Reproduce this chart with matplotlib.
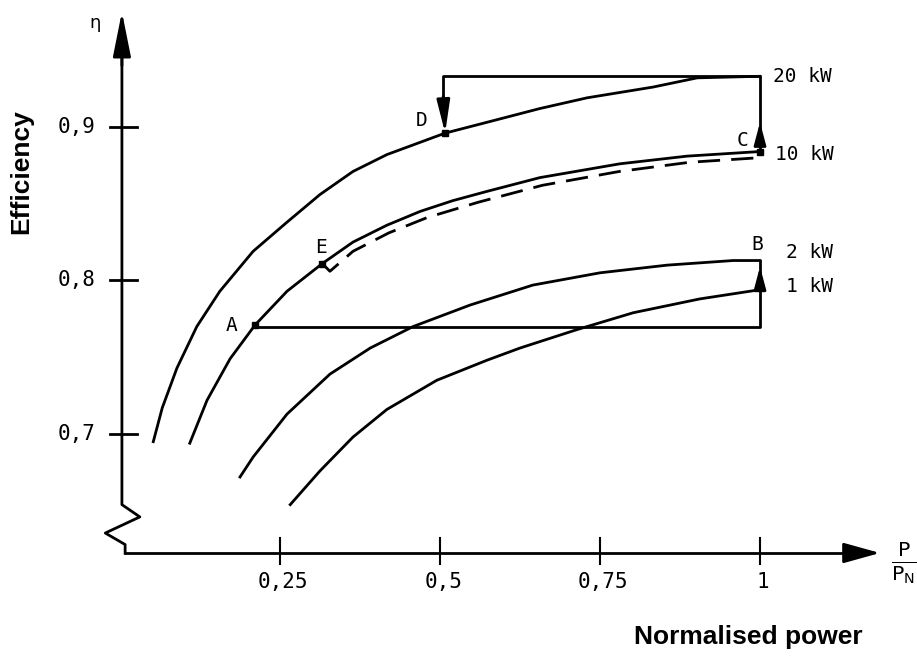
import matplotlib.pyplot as plt

# Kurven: Wirkungsgrad ueber normierter Leistung P/PN
p_20kw = [0.052, 0.066, 0.089, 0.120, 0.156, 0.208, 0.261, 0.3125, 0.364, 0.417, 0.508, 0.573, 0.656, 0.730, 0.833, 0.902, 1.0]
eta_20kw = [0.695, 0.717, 0.743, 0.770, 0.793, 0.819, 0.838, 0.856, 0.871, 0.882, 0.896, 0.903, 0.912, 0.919, 0.926, 0.932, 0.933]

p_10kw = [0.109, 0.136, 0.172, 0.211, 0.261, 0.316, 0.364, 0.417, 0.469, 0.520, 0.573, 0.656, 0.781, 0.886, 1.0]
eta_10kw = [0.694, 0.722, 0.749, 0.771, 0.793, 0.811, 0.825, 0.836, 0.845, 0.852, 0.858, 0.867, 0.876, 0.881, 0.884]

p_10kw_dash = [0.316, 0.328, 0.364, 0.42, 0.48, 0.56, 0.66, 0.78, 0.89, 1.0]
eta_10kw_dash = [0.811, 0.806, 0.819, 0.831, 0.841, 0.851, 0.862, 0.871, 0.877, 0.880]

p_2kw = [0.1875, 0.208, 0.261, 0.328, 0.391, 0.458, 0.547, 0.645, 0.75, 0.855, 0.958, 1.0]
eta_2kw = [0.672, 0.685, 0.713, 0.739, 0.756, 0.770, 0.784, 0.797, 0.805, 0.810, 0.813, 0.813]

p_1kw = [0.266, 0.3125, 0.364, 0.417, 0.495, 0.573, 0.625, 0.714, 0.802, 0.906, 1.0]
eta_1kw = [0.654, 0.676, 0.698, 0.716, 0.735, 0.748, 0.756, 0.768, 0.779, 0.788, 0.794]

curve_labels = ['20 kW', '10 kW', '2 kW', '1 kW']

# Betriebspunkte
point_names = ['A', 'B', 'C', 'D', 'E']
point_p = [0.211, 1.0, 1.0, 0.508, 0.316]
point_eta = [0.771, 0.813, 0.884, 0.896, 0.811]

x_ticks = [0.25, 0.5, 0.75, 1.0]
x_ticklabels = ['0,25', '0,5', '0,75', '1']
y_ticks = [0.9, 0.8, 0.7]
y_ticklabels = ['0,9', '0,8', '0,7']

fig = plt.figure(figsize=(9.17, 6.58), dpi=100)
ax = fig.add_axes([0, 0, 1, 1])
ax.set_xlim(-0.1875, 1.2453)
ax.set_ylim(0.5541, 0.9827)
ax.axis('off')

lw = 2.0
k = 'black'
mono = 'DejaVu Sans Mono'

# Achsen mit Bruch
x_axis_eta = 0.6225
ax.plot([0.003, 0.003, 0.031, -0.023, 0.008, 0.008], [0.960, 0.654, 0.646, 0.6355, 0.628, x_axis_eta], color=k, lw=lw)
ax.annotate('', xy=(0.003, 0.975), xytext=(0.003, 0.94),
            arrowprops=dict(arrowstyle='-|>,head_length=1.1,head_width=0.22', mutation_scale=25,
                            color=k, lw=lw, shrinkA=0, shrinkB=0))
ax.plot([0.008, 1.16], [x_axis_eta, x_axis_eta], color=k, lw=lw)
ax.annotate('', xy=(1.1875, x_axis_eta), xytext=(1.14, x_axis_eta),
            arrowprops=dict(arrowstyle='-|>,head_length=0.9,head_width=0.25', mutation_scale=25,
                            color=k, lw=lw, shrinkA=0, shrinkB=0))

for t, lab in zip(y_ticks, y_ticklabels):
    ax.plot([-0.016, 0.027], [t, t], color=k, lw=lw)
    ax.text(-0.039, t, lab, ha='right', va='center', fontsize=15, family=mono)
for t, lab in zip(x_ticks, x_ticklabels):
    ax.plot([t, t], [0.632, 0.6155], color=k, lw=1.5)
    ax.text(t + 0.005, 0.6036, lab, ha='center', va='center', fontsize=15, family=mono)

ax.text(-0.039, 0.968, 'η', ha='center', va='center', fontsize=13)
ax.text(1.205, 0.616, r'$\frac{\mathrm{P}}{\mathrm{P}_\mathrm{N}}$', ha='left', va='center', fontsize=21)

ax.text(-0.155, 0.871, 'Efficiency', rotation=90, ha='center', va='center',
        fontsize=19, fontweight='bold', family='Liberation Sans')
ax.text(0.981, 0.568, 'Normalised power', ha='center', va='center',
        fontsize=19, fontweight='bold', family='Liberation Sans')

# Kurven
ax.plot(p_20kw, eta_20kw, color=k, lw=lw)
ax.plot(p_10kw, eta_10kw, color=k, lw=lw)
ax.plot(p_10kw_dash, eta_10kw_dash, color=k, lw=lw, linestyle=(0, (8, 4)))
ax.plot(p_2kw, eta_2kw, color=k, lw=lw)
ax.plot(p_1kw, eta_1kw, color=k, lw=lw)

label_eta = [eta_20kw[-1], eta_10kw[-1] - 0.002, eta_2kw[-1] + 0.005, eta_1kw[-1] + 0.002]
label_dx = [0.02, 0.024, 0.04, 0.04]
for lab, e, dx in zip(curve_labels, label_eta, label_dx):
    ax.text(1.0 + dx, e, lab, ha='left', va='center', fontsize=14, family=mono)

# Wege zwischen Betriebspunkten
pa = dict(zip(point_names, zip(point_p, point_eta)))
ax.plot([pa['A'][0], 1.0, 1.0], [0.770, 0.770, pa['B'][1]], color=k, lw=lw)
ax.annotate('', xy=(1.0, 0.809), xytext=(1.0, eta_1kw[-1]),
            arrowprops=dict(arrowstyle='-|>,head_length=0.75,head_width=0.2', mutation_scale=18,
                            color=k, lw=lw, shrinkA=0, shrinkB=0))
ax.plot([1.0, 1.0, pa['D'][0] - 0.003, pa['D'][0] - 0.003],
        [pa['C'][1], eta_20kw[-1], eta_20kw[-1], 0.915], color=k, lw=lw)
ax.annotate('', xy=(1.0, 0.903), xytext=(1.0, 0.89),
            arrowprops=dict(arrowstyle='-|>,head_length=0.75,head_width=0.2', mutation_scale=18,
                            color=k, lw=lw, shrinkA=0, shrinkB=0))
ax.annotate('', xy=pa['D'], xytext=(pa['D'][0] - 0.003, 0.92),
            arrowprops=dict(arrowstyle='-|>,head_length=1.1,head_width=0.22', mutation_scale=18,
                            color=k, lw=lw, shrinkA=0, shrinkB=0))

for n in ['A', 'C', 'D', 'E']:
    ax.plot(*pa[n], marker='s', ms=5, color=k)

label_off = {'A': (-0.036, 0.0), 'B': (-0.005, 0.0105), 'C': (-0.028, 0.0075), 'D': (-0.036, 0.0085), 'E': (-0.002, 0.0105)}
for n in point_names:
    dx, dy = label_off[n]
    ax.text(pa[n][0] + dx, pa[n][1] + dy, n, ha='center', va='center', fontsize=14, family=mono)

fig.savefig('out.png', dpi=100, facecolor='white')
